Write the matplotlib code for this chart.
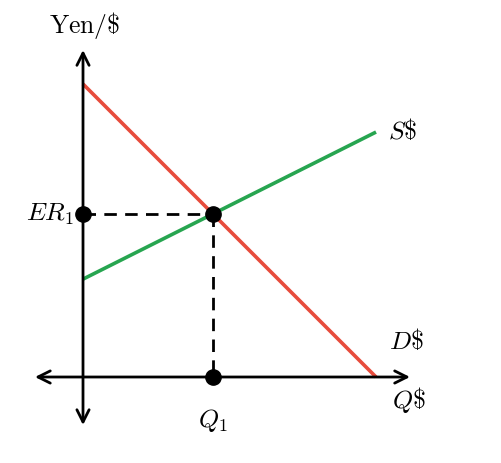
import matplotlib.pyplot as plt

plt.rcParams['mathtext.fontset'] = 'cm'

# demand and supply lines (quantity, price)
demand_x = [0, 10]
demand_y = [10, 0]
supply_x = [0, 10]
supply_y = [3.34, 8.36]

# equilibrium
q1 = 4.43
er1 = 5.57

fig = plt.figure(figsize=(5.02, 4.63), dpi=100)
ax = fig.add_axes([0, 0, 1, 1])
ax.set_xlim(-2.833, 14.30)
ax.set_ylim(-2.935, 12.867)
ax.axis('off')

arrow = dict(arrowstyle='<->', lw=2.0, color='black', mutation_scale=22,
             shrinkA=0, shrinkB=0)
ax.annotate('', xy=(11.16, 0), xytext=(-1.64, 0), arrowprops=arrow)
ax.annotate('', xy=(0, 11.16), xytext=(0, -1.64), arrowprops=arrow)

ax.plot(demand_x, demand_y, color='#e74c3c', lw=2.6, solid_capstyle='butt')
ax.plot(supply_x, supply_y, color='#27a550', lw=2.6, solid_capstyle='butt')

ax.plot([0, q1], [er1, er1], 'k--', lw=2.0, dashes=(4.5, 3))
ax.plot([q1, q1], [er1, 0], 'k--', lw=2.0, dashes=(4.5, 3))
ax.plot([0, q1, q1], [er1, er1, 0], 'o', color='black', ms=11, zorder=5)

fs = 18.5
ax.text(0.07, 12.0, r'$\mathrm{Yen}/\$$', fontsize=fs, ha='center', va='center')
ax.text(10.4, 8.36, r'$S\$$', fontsize=fs, ha='left', va='center')
ax.text(10.45, 1.19, r'$D\$$', fontsize=fs, ha='left', va='center')
ax.text(10.55, -0.78, r'$Q\$$', fontsize=fs, ha='left', va='center')
ax.text(-0.3, er1, r'$ER_1$', fontsize=fs, ha='right', va='center')
ax.text(q1, -1.47, r'$Q_1$', fontsize=fs, ha='center', va='center')

fig.savefig('out.png', dpi=100)
